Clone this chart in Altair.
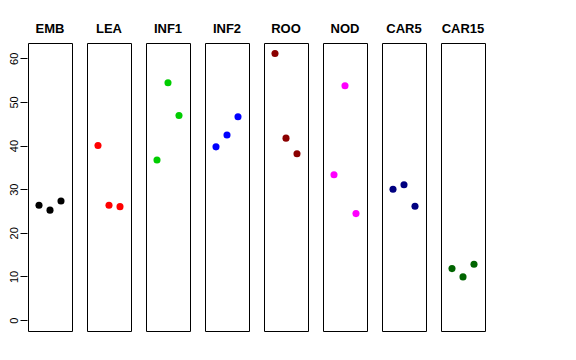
import altair as alt
import pandas as pd

tissues = ["EMB", "LEA", "INF1", "INF2", "ROO", "NOD", "CAR5", "CAR15"]
colors = ["#000000", "#FF0000", "#00CD00", "#0000FF", "#8B0000", "#FF00FF", "#000080", "#006400"]
replicate = [1, 2, 3]
values = {
    "EMB": [26.3, 25.2, 27.3],
    "LEA": [40.0, 26.3, 26.0],
    "INF1": [36.7, 54.4, 46.9],
    "INF2": [39.7, 42.4, 46.6],
    "ROO": [61.1, 41.7, 38.1],
    "NOD": [33.3, 53.7, 24.4],
    "CAR5": [30.0, 31.0, 26.1],
    "CAR15": [11.8, 9.9, 12.8],
}

rows = []
for t in tissues:
    for r, v in zip(replicate, values[t]):
        rows.append({"tissue": t, "rep": r, "value": v})
df = pd.DataFrame(rows)

font = "Liberation Sans"

base = alt.Chart(df).mark_circle(size=50, opacity=1).encode(
    x=alt.X("rep:Q", scale=alt.Scale(domain=[0, 4], nice=False), axis=None),
    y=alt.Y("value:Q", scale=alt.Scale(domain=[-2.5, 63.5], nice=False, zero=False),
            axis=alt.Axis(values=[0, 10, 20, 30, 40, 50, 60], title=None, grid=False,
                          domain=False, tickSize=7, tickColor="black", labelAngle=-90,
                          labelAlign="center", labelBaseline="bottom", labelPadding=1,
                          labelFont=font, labelFontSize=11, labelColor="black")),
    color=alt.Color("tissue:N", scale=alt.Scale(domain=tissues, range=colors), legend=None),
).properties(width=44, height=288)

chart = base.facet(
    column=alt.Column("tissue:N", sort=tissues,
                      header=alt.Header(title=None, labelFontWeight="bold", labelFontSize=13,
                                        labelFont=font, labelColor="black", labelPadding=6)),
    spacing=13,
).properties(
    padding={"left": 0, "top": 15, "right": 5, "bottom": 5}
).configure(background="white").configure_view(stroke="black", strokeWidth=1)

chart.save("out.html", embed_options={"renderer": "svg", "actions": False})
